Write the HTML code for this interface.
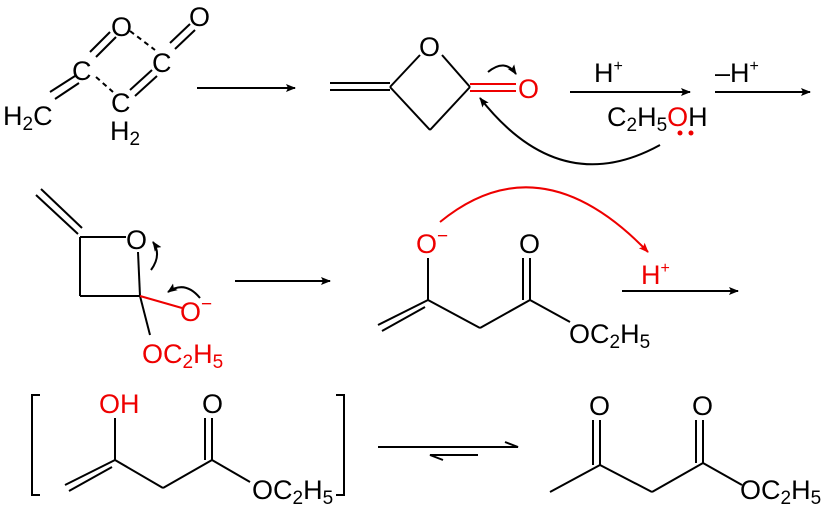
<!DOCTYPE html>
<html><head><style>body{margin:0;background:#fff}svg{display:block}text{font-family:"Liberation Sans",Arial,sans-serif;font-size:27px}</style></head><body>
<svg width="831" height="512" viewBox="0 0 831 512" xmlns="http://www.w3.org/2000/svg">
<defs>
<marker id="a" viewBox="0 0 10 10" refX="9" refY="5" markerWidth="10" markerHeight="10" markerUnits="userSpaceOnUse" orient="auto"><path d="M0,1 L10,5 L0,9 L2,5z" fill="#000"/></marker>
<marker id="r" viewBox="0 0 10 10" refX="9" refY="5" markerWidth="10" markerHeight="10" markerUnits="userSpaceOnUse" orient="auto"><path d="M0,1 L10,5 L0,9 L2,5z" fill="#e00"/></marker>
</defs>
<g stroke="#000" stroke-width="2" fill="none">
<line x1="50" y1="92" x2="75" y2="76"/><line x1="55" y1="99" x2="79" y2="83"/>
<line x1="90" y1="52" x2="110" y2="32"/><line x1="96" y1="57" x2="116" y2="37"/>
<line x1="130" y1="31" x2="155" y2="50" stroke-dasharray="5,4"/>
<line x1="96" y1="77" x2="113" y2="92" stroke-dasharray="5,4"/>
<line x1="130" y1="90" x2="152" y2="70"/><line x1="135" y1="96" x2="157" y2="76"/>
<line x1="170" y1="43" x2="190" y2="24"/><line x1="175" y1="49" x2="195" y2="30"/>
<line x1="197" y1="88" x2="295" y2="88" marker-end="url(#a)"/>
<line x1="330" y1="83" x2="390" y2="83"/><line x1="330" y1="90" x2="390" y2="90"/>
<line x1="390" y1="87" x2="420" y2="55"/><line x1="442" y1="55" x2="470" y2="87"/>
<line x1="470" y1="87" x2="430" y2="130"/><line x1="430" y1="130" x2="390" y2="87"/>
<path d="M488,72 Q505,58 516,74" marker-end="url(#a)"/>
<line x1="570" y1="92" x2="690" y2="92" marker-end="url(#a)"/>
<path d="M660,145 Q560,200 480,98" marker-end="url(#a)"/>
<line x1="715" y1="92" x2="810" y2="92" marker-end="url(#a)"/>
<line x1="36" y1="195" x2="78" y2="234"/><line x1="41" y1="189" x2="82" y2="228"/>
<line x1="80" y1="237" x2="126" y2="237"/><line x1="80" y1="237" x2="80" y2="296"/>
<line x1="80" y1="296" x2="140" y2="296"/><line x1="138" y1="252" x2="140" y2="296"/>
<line x1="140" y1="296" x2="150" y2="335"/>
<path d="M151,270 Q162,255 153,242" marker-end="url(#a)"/>
<path d="M200,298 Q185,280 168,292" marker-end="url(#a)"/>
<line x1="235" y1="281" x2="330" y2="281" marker-end="url(#a)"/>
<line x1="428" y1="258" x2="428" y2="300"/>
<line x1="428" y1="300" x2="378" y2="325"/><line x1="425" y1="307" x2="382" y2="331"/>
<line x1="428" y1="300" x2="480" y2="328"/><line x1="480" y1="328" x2="530" y2="300"/>
<line x1="530" y1="300" x2="530" y2="258"/><line x1="523" y1="300" x2="523" y2="258"/>
<line x1="530" y1="300" x2="570" y2="322"/>
<line x1="622" y1="291" x2="738" y2="291" marker-end="url(#a)"/>
<path d="M40,395 H32 V495 H40"/><path d="M336,395 H344 V495 H336"/>
<line x1="115" y1="418" x2="115" y2="460"/>
<line x1="115" y1="460" x2="65" y2="485"/><line x1="112" y1="467" x2="69" y2="491"/>
<line x1="115" y1="460" x2="163" y2="488"/><line x1="163" y1="488" x2="212" y2="460"/>
<line x1="212" y1="460" x2="212" y2="418"/><line x1="205" y1="460" x2="205" y2="418"/>
<line x1="212" y1="460" x2="250" y2="482"/>
<path d="M378,447 H518 L505,442"/><path d="M478,455 H430 L443,460"/>
<line x1="550" y1="492" x2="600" y2="465"/>
<line x1="600" y1="465" x2="600" y2="420"/><line x1="593" y1="465" x2="593" y2="420"/>
<line x1="600" y1="465" x2="652" y2="492"/><line x1="652" y1="492" x2="703" y2="463"/>
<line x1="703" y1="463" x2="703" y2="420"/><line x1="696" y1="463" x2="696" y2="420"/>
<line x1="703" y1="463" x2="742" y2="485"/>
</g>
<g stroke="#e00" stroke-width="2" fill="none">
<line x1="470" y1="84" x2="516" y2="84"/><line x1="470" y1="91" x2="516" y2="91"/>
<line x1="140" y1="296" x2="182" y2="308"/>
<path d="M440,222 Q540,140 648,252" marker-end="url(#r)"/>
</g>
<g fill="#000">
<text x="3" y="125">H<tspan font-size="19" dy="5">2</tspan><tspan dy="-5">C</tspan></text>
<text x="72" y="80">C</text><text x="111" y="36">O</text><text x="152" y="72">C</text>
<text x="111" y="112">C</text><text x="110" y="140">H<tspan font-size="19" dy="5">2</tspan></text>
<text x="189" y="26">O</text>
<text x="419" y="56">O</text>
<text x="594" y="82">H<tspan font-size="16" dy="-11">+</tspan></text>
<text x="607" y="126">C<tspan font-size="19" dy="5">2</tspan><tspan dy="-5">H</tspan><tspan font-size="19" dy="5">5</tspan><tspan fill="#e00" dy="-5">O</tspan>H</text>
<text x="715" y="82">–H<tspan font-size="16" dy="-11">+</tspan></text>
<text x="126" y="249">O</text>
<text x="519" y="253">O</text>
<text x="569" y="343">OC<tspan font-size="19" dy="5">2</tspan><tspan dy="-5">H</tspan><tspan font-size="19" dy="5">5</tspan></text>
<text x="202" y="413">O</text>
<text x="252" y="499">OC<tspan font-size="19" dy="5">2</tspan><tspan dy="-5">H</tspan><tspan font-size="19" dy="5">5</tspan></text>
<text x="589" y="415">O</text><text x="692" y="415">O</text>
<text x="740" y="499">OC<tspan font-size="19" dy="5">2</tspan><tspan dy="-5">H</tspan><tspan font-size="19" dy="5">5</tspan></text>
</g>
<g fill="#e00">
<text x="518" y="98">O</text>
<circle cx="680" cy="133" r="2.5"/><circle cx="691" cy="133" r="2.5"/>
<text x="180" y="321">O<tspan font-size="19" dy="-11">−</tspan></text>
<text x="142" y="363">OC<tspan font-size="19" dy="5">2</tspan><tspan dy="-5">H</tspan><tspan font-size="19" dy="5">5</tspan></text>
<text x="416" y="253">O<tspan font-size="19" dy="-11">−</tspan></text>
<text x="641" y="284">H<tspan font-size="16" dy="-11">+</tspan></text>
<text x="99" y="413">OH</text>
</g>
</svg>
</body></html>
